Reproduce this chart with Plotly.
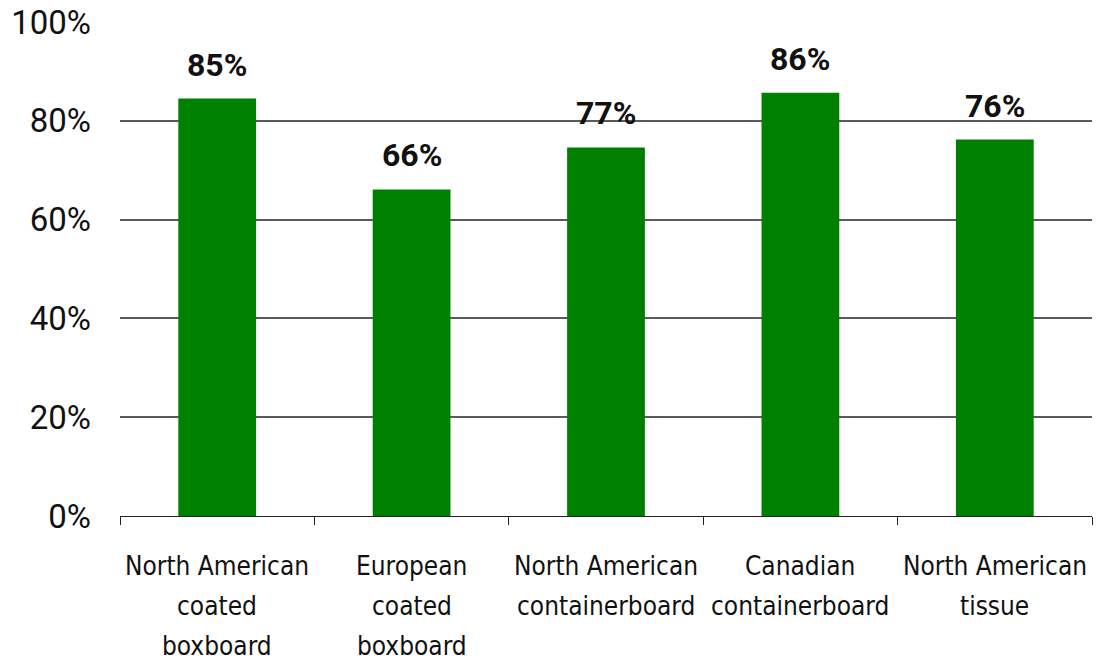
import plotly.graph_objects as go

categories = [
    "North American coated boxboard",
    "European coated boxboard",
    "North American containerboard",
    "Canadian containerboard",
    "North American tissue",
]
category_lines = [
    ["North American", "coated", "boxboard"],
    ["European", "coated", "boxboard"],
    ["North American", "containerboard"],
    ["Canadian", "containerboard"],
    ["North American", "tissue"],
]
values = [84.5, 66.1, 74.6, 85.7, 76.2]
labels = ["85%", "66%", "77%", "86%", "76%"]
y_ticks = [0, 20, 40, 60, 80, 100]

fig = go.Figure()
fig.add_trace(go.Bar(
    x=categories, y=values, width=0.4,
    marker=dict(color="#008000", line=dict(width=0)),
    hoverinfo="skip",
))

for c, v, t in zip(categories, values, labels):
    fig.add_annotation(
        x=c, y=v, text=t, showarrow=False, yanchor="middle", yshift=34,
        font=dict(family="Roboto", size=32, color="#111111", weight="bold"),
    )

for c, lines in zip(categories, category_lines):
    for i, ln in enumerate(lines):
        fig.add_annotation(
            x=c, y=0, text=ln, showarrow=False, yanchor="middle",
            yshift=-50 - 40 * i,
            font=dict(family="DejaVu Sans Condensed, Roboto", size=26, color="#111111"),
        )

fig.update_layout(
    width=1099, height=663,
    margin=dict(l=120, r=7, t=22, b=147),
    paper_bgcolor="white", plot_bgcolor="white",
    showlegend=False,
    bargap=0.6,
)
fig.update_xaxes(
    type="category", tickson="boundaries", tickangle=0, automargin=False,
    ticks="outside", ticklen=8, tickcolor="#222222", tickwidth=1,
    showline=True, linecolor="#222222", linewidth=1,
    showgrid=False, showticklabels=False,
)
fig.update_yaxes(
    range=[0, 100], tickvals=y_ticks, ticktext=[f"{v}%" for v in y_ticks],
    showgrid=True, gridcolor="#5a5a5a", gridwidth=1.5, automargin=False,
    zeroline=False, showline=False, ticks="",
    tickfont=dict(family="Roboto", size=33, color="#111111"),
    ticklabelstandoff=28,
)

fig.write_html("out.html")
